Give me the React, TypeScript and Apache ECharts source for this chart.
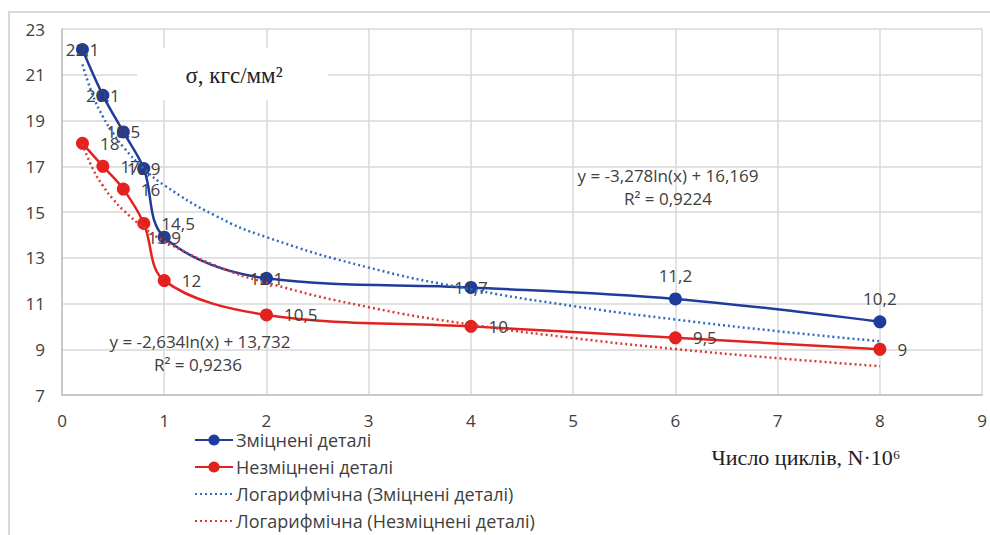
import React, { useEffect, useRef } from "react";
import * as echarts from "echarts";

// ---- data ----
const cycles = [0.2, 0.4, 0.6, 0.8, 1, 2, 4, 6, 8]; // N·10^6
const strengthened = [22.1, 20.1, 18.5, 16.9, 13.9, 12.1, 11.7, 11.2, 10.2];
const unstrengthened = [18, 17, 16, 14.5, 12, 10.5, 10, 9.5, 9];

// logarithmic trend lines (values of the curves shown on the chart)
const trendCycles = [0.2, 0.3, 0.4, 0.5, 0.6, 0.8, 1, 1.5, 2, 3, 4, 5, 6, 7, 8];
const trendStrengthened = [21.45, 20.12, 19.17, 18.44, 17.84, 16.9, 16.17, 14.84, 13.9, 12.57, 11.62, 10.89, 10.3, 9.79, 9.35];
const trendUnstrengthened = [17.97, 16.9, 16.15, 15.56, 15.08, 14.32, 13.73, 12.66, 11.91, 10.84, 10.08, 9.49, 9.01, 8.61, 8.26];

const seriesNames = [
  "Зміцнені деталі",
  "Незміцнені деталі",
  "Логарифмічна (Зміцнені деталі)",
  "Логарифмічна (Незміцнені деталі)",
];
const eqStrengthened = ["y = -3,278ln(x) + 16,169", "R² = 0,9224"];
const eqUnstrengthened = ["y = -2,634ln(x) + 13,732", "R² = 0,9236"];
const yTitle = "σ, кгс/мм²";
const xTitle = "Число циклів, N·10⁶";

const BLUE = "#1f3c9c";
const RED = "#e3221f";
const TXT = "#404040";
const SANS = "'Open Sans', sans-serif";
const SERIF = "'Liberation Serif', 'Times New Roman', serif";

const fmt = (v: number) => String(v).replace(".", ",");

export default function App() {
  const ref = useRef<HTMLDivElement>(null);
  useEffect(() => {
    if (!ref.current) return;
    const chart = echarts.init(ref.current, undefined, { renderer: "svg" });

    const blueData = cycles.map((x, i) => ({
      value: [x, strengthened[i]],
      label: i >= 7 ? { position: "top", distance: 8 } : { position: "inside" },
    }));
    const redData = cycles.map((x, i) => ({ value: [x, unstrengthened[i]] }));

    const labelStyle = {
      show: true,
      color: TXT,
      fontFamily: SANS,
      fontSize: 17,
      formatter: (p: any) => fmt(p.value[1]),
    };

    const eqText = (text: string, x: number, y: number) => ({
      type: "text",
      z: 6,
      x,
      y,
      style: { text, fill: TXT, font: `17px ${SANS}`, align: "center", verticalAlign: "middle" },
    });

    chart.setOption({
      animation: false,
      backgroundColor: "#fff",
      grid: { left: 62, right: 6, top: 29, bottom: 140 },
      xAxis: {
        type: "value",
        min: 0,
        max: 9,
        interval: 1,
        axisLine: { show: true, lineStyle: { color: "#bfbfbf", width: 1.5 } },
        axisTick: { show: false },
        splitLine: { show: true, lineStyle: { color: "#d9d9d9", width: 1.5 } },
        axisLabel: { color: TXT, fontFamily: SANS, fontSize: 17, margin: 17 },
      },
      yAxis: {
        type: "value",
        min: 7,
        max: 23,
        interval: 2,
        axisLine: { show: true, lineStyle: { color: "#bfbfbf", width: 1.5 } },
        axisTick: { show: false },
        splitLine: { show: true, lineStyle: { color: "#d9d9d9", width: 1.5 } },
        axisLabel: { color: TXT, fontFamily: SANS, fontSize: 17, margin: 17 },
      },
      legend: {
        orient: "vertical",
        left: 194,
        top: 431,
        itemWidth: 38,
        itemHeight: 14,
        itemGap: 9,
        padding: 0,
        textStyle: { color: TXT, fontFamily: SANS, fontSize: 18, lineHeight: 18, padding: [0, 0, 0, -2] },
        data: seriesNames,
      },
      graphic: [
        {
          type: "rect",
          shape: { x: 9, y: 12, width: 1100, height: 700 },
          style: { fill: "none", stroke: "#d9d9d9", lineWidth: 2 },
          silent: true,
        },
        {
          type: "rect",
          z: 5,
          shape: { x: 137, y: 48, width: 191, height: 52 },
          style: { fill: "#fff" },
          silent: true,
        },
        {
          type: "text",
          z: 6,
          x: 234,
          y: 75,
          style: { text: yTitle, fill: "#222", font: `23px ${SERIF}`, align: "center", verticalAlign: "middle" },
        },
        {
          type: "text",
          z: 6,
          x: 806,
          y: 457,
          style: { text: xTitle, fill: "#222", font: `22px ${SERIF}`, align: "center", verticalAlign: "middle" },
        },
        eqText(eqStrengthened[0], 668, 175),
        eqText(eqStrengthened[1], 668, 198),
        eqText(eqUnstrengthened[0], 200, 341),
        eqText(eqUnstrengthened[1], 198, 364),
      ],
      series: [
        {
          name: seriesNames[0],
          type: "line",
          smooth: 0.35,
          symbol: "circle",
          symbolSize: 13,
          data: blueData,
          itemStyle: { color: BLUE },
          lineStyle: { color: BLUE, width: 2.5 },
          label: labelStyle,
          z: 3,
        },
        {
          name: seriesNames[1],
          type: "line",
          smooth: 0.35,
          symbol: "circle",
          symbolSize: 13,
          data: redData,
          itemStyle: { color: RED },
          lineStyle: { color: RED, width: 2.5 },
          label: { ...labelStyle, position: "right", distance: 11 },
          z: 3,
        },
        {
          name: seriesNames[2],
          type: "line",
          smooth: true,
          symbol: "none",
          data: trendCycles.map((x, i) => [x, trendStrengthened[i]]),
          itemStyle: { color: "rgba(0,0,0,0)" },
          lineStyle: { color: "#2f6cc0", width: 2.5, type: [2, 3] },
          z: 4,
        },
        {
          name: seriesNames[3],
          type: "line",
          smooth: true,
          symbol: "none",
          data: trendCycles.map((x, i) => [x, trendUnstrengthened[i]]),
          itemStyle: { color: "rgba(0,0,0,0)" },
          lineStyle: { color: "#d83a33", width: 2.5, type: [2, 3] },
          z: 4,
        },
      ],
    });
    return () => chart.dispose();
  }, []);
  return (
    <div
      ref={ref}
      style={{ position: "fixed", left: 0, top: 0, width: 990, height: 535, background: "#fff" }}
    />
  );
}
